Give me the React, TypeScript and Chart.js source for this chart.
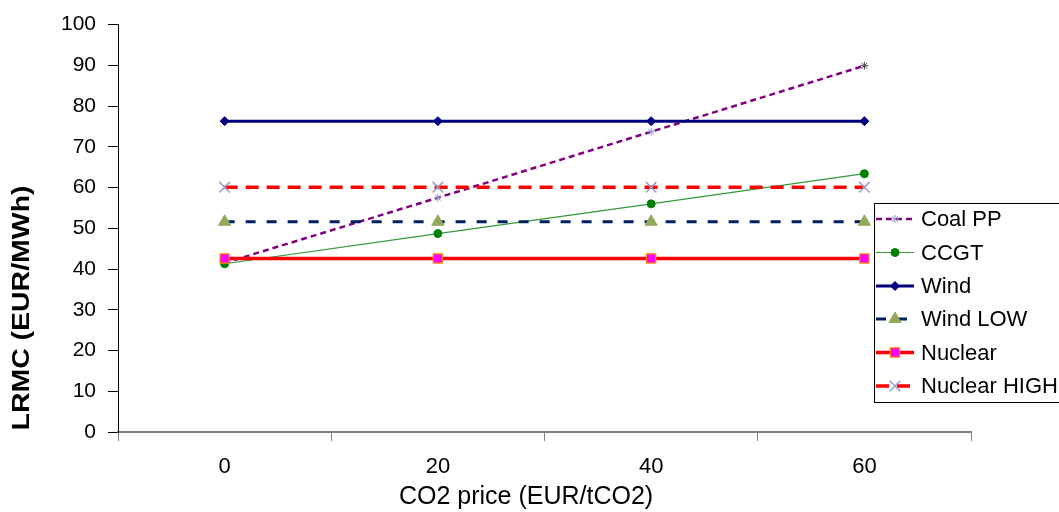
import React, { useEffect, useRef } from 'react';
import { Chart, registerables } from 'chart.js';
import { drawPoint } from 'chart.js/helpers';

Chart.register(...registerables);

const categories = ['0', '20', '40', '60'];
const coalPP = [41.5, 57.5, 73.7, 89.9];
const ccgt = [41.3, 48.7, 56.0, 63.4];
const wind = [76.3, 76.3, 76.3, 76.3];
const windLow = [51.6, 51.6, 51.6, 51.6];
const nuclear = [42.6, 42.6, 42.6, 42.6];
const nuclearHigh = [60.1, 60.1, 60.1, 60.1];

const seriesNames = ['Coal PP', 'CCGT', 'Wind', 'Wind LOW', 'Nuclear', 'Nuclear HIGH'];
const yMin = 0;
const yMax = 100;
const yStep = 10;
const xTitle = 'CO2 price (EUR/tCO2)';
const yTitle = 'LRMC (EUR/MWh)';

const FONT = '"Liberation Sans", Arial, sans-serif';

const titlesPlugin = {
  id: 'titles',
  afterDraw(chart: any) {
    const ctx = chart.ctx;
    ctx.save();
    ctx.fillStyle = '#000';
    ctx.font = `25px ${FONT}`;
    ctx.textAlign = 'center';
    ctx.textBaseline = 'middle';
    ctx.fillText(xTitle, 526, 497);
    ctx.translate(22, 308);
    ctx.rotate(-Math.PI / 2);
    ctx.font = `bold 24px ${FONT}`;
    const w = ctx.measureText(yTitle).width;
    ctx.scale(245 / w, 1);
    ctx.fillText(yTitle, 0, 0);
    ctx.restore();
  },
};

const legendPlugin = {
  id: 'customLegend',
  afterDraw(chart: any) {
    const ctx = chart.ctx;
    const left = 874;
    const top = 203;
    const bottom = 402;
    ctx.save();
    ctx.fillStyle = '#fff';
    ctx.fillRect(left, top, 1100 - left, bottom - top);
    ctx.strokeStyle = '#000';
    ctx.lineWidth = 1;
    ctx.strokeRect(left + 0.5, top + 0.5, 1100 - left, bottom - top);
    const rowY = [219, 252.5, 286, 319, 352.5, 386];
    chart.data.datasets.forEach((ds: any, i: number) => {
      const y = rowY[i];
      ctx.save();
      ctx.strokeStyle = ds.borderColor;
      ctx.lineWidth = ds.borderWidth;
      ctx.setLineDash(ds.borderDash || []);
      ctx.beginPath();
      ctx.moveTo(876, y);
      ctx.lineTo(914, y);
      ctx.stroke();
      ctx.setLineDash([]);
      const bc = Array.isArray(ds.pointBorderColor) ? ds.pointBorderColor[0] : ds.pointBorderColor;
      ctx.fillStyle = ds.pointBackgroundColor;
      ctx.strokeStyle = bc;
      ctx.lineWidth = ds.pointBorderWidth;
      drawPoint(ctx, { pointStyle: ds.pointStyle, radius: ds.pointRadius, borderWidth: ds.pointBorderWidth, rotation: 0 }, 895, y);
      ctx.restore();
      ctx.fillStyle = '#000';
      ctx.font = `22px ${FONT}`;
      ctx.textAlign = 'left';
      ctx.textBaseline = 'middle';
      ctx.fillText(seriesNames[i], 921, y + 1);
    });
    ctx.restore();
  },
};

export default function App() {
  const ref = useRef<HTMLCanvasElement>(null);
  useEffect(() => {
    document.body.style.margin = '0';
    const chart = new Chart(ref.current as HTMLCanvasElement, {
      type: 'line',
      data: {
        labels: categories,
        datasets: [
          {
            label: seriesNames[0],
            data: coalPP,
            borderColor: '#800080',
            borderWidth: 2.5,
            borderDash: [6, 4],
            pointStyle: 'star',
            pointRadius: 4,
            pointBorderWidth: 1,
            pointBorderColor: ['#9999CC', '#9999CC', '#9999CC', '#444444'],
            pointBackgroundColor: '#9999CC',
            order: 6,
          },
          {
            label: seriesNames[1],
            data: ccgt,
            borderColor: '#33993A',
            borderWidth: 1.2,
            pointStyle: 'circle',
            pointRadius: 4,
            pointBorderWidth: 1,
            pointBorderColor: '#008000',
            pointBackgroundColor: '#008000',
            order: 5,
          },
          {
            label: seriesNames[2],
            data: wind,
            borderColor: '#000080',
            borderWidth: 3,
            pointStyle: 'rectRot',
            pointRadius: 4.5,
            pointBorderWidth: 1,
            pointBorderColor: '#000080',
            pointBackgroundColor: '#000080',
            order: 4,
          },
          {
            label: seriesNames[3],
            data: windLow,
            borderColor: '#00205F',
            borderWidth: 3,
            borderDash: [10, 11],
            pointStyle: 'triangle',
            pointRadius: 7,
            pointBorderWidth: 1,
            pointBorderColor: '#93A95A',
            pointBackgroundColor: '#93A95A',
            order: 3,
          },
          {
            label: seriesNames[4],
            data: nuclear,
            borderColor: '#FF0000',
            borderWidth: 3.5,
            pointStyle: 'rect',
            pointRadius: 6.5,
            pointBorderWidth: 1.2,
            pointBorderColor: '#FF8C00',
            pointBackgroundColor: '#FF00FF',
            order: 2,
          },
          {
            label: seriesNames[5],
            data: nuclearHigh,
            borderColor: '#FF0000',
            borderWidth: 3.5,
            borderDash: [13, 8],
            pointStyle: 'crossRot',
            pointRadius: 7.5,
            pointBorderWidth: 1.5,
            pointBorderColor: '#9A9AD0',
            pointBackgroundColor: '#9A9AD0',
            order: 1,
          },
        ],
      },
      options: {
        responsive: false,
        maintainAspectRatio: false,
        animation: false,
        devicePixelRatio: 1,
        layout: { padding: { left: 0, top: 22, right: 88, bottom: 0 } },
        plugins: {
          legend: { display: false },
          tooltip: { enabled: false },
        },
        elements: { line: { tension: 0 } },
        scales: {
          x: {
            type: 'category',
            offset: true,
            grid: {
              offset: true,
              drawOnChartArea: false,
              drawTicks: true,
              tickLength: 9,
              color: '#808080',
              lineWidth: 1,
            },
            border: { display: true, color: '#808080', width: 2 },
            ticks: {
              color: '#000',
              font: { family: FONT, size: 22 },
              padding: 13,
              maxRotation: 0,
            },
            afterFit(scale: any) {
              scale.height = 80;
            },
          },
          y: {
            min: yMin,
            max: yMax,
            ticks: {
              stepSize: yStep,
              color: '#000',
              font: { family: FONT, size: 21 },
              padding: 12,
            },
            grid: {
              drawOnChartArea: false,
              drawTicks: true,
              tickLength: 10,
              color: '#000',
              lineWidth: 1,
            },
            border: { display: true, color: '#000', width: 1 },
            afterFit(scale: any) {
              scale.width = 118;
            },
          },
        },
      },
      plugins: [titlesPlugin, legendPlugin],
    } as any);
    return () => chart.destroy();
  }, []);
  return (
    <div style={{ width: 1059, height: 512 }}>
      <canvas ref={ref} width={1059} height={512} style={{ display: 'block' }} />
    </div>
  );
}
